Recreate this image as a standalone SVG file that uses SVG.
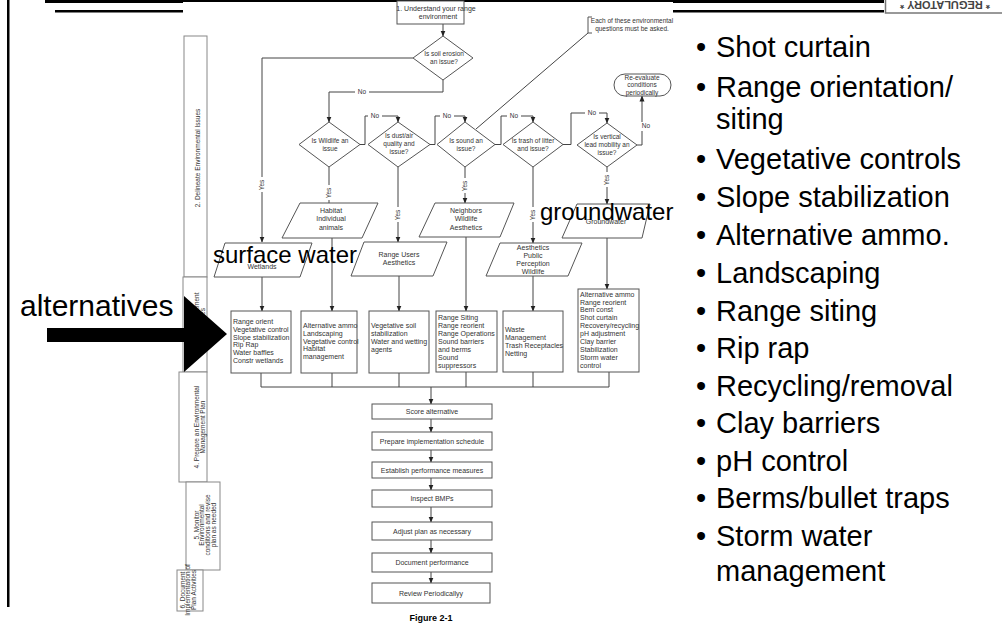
<svg xmlns="http://www.w3.org/2000/svg" width="1002" height="625" viewBox="0 0 1002 625">
<defs>
<marker id="ah" markerWidth="6" markerHeight="6" refX="5.5" refY="3" orient="auto" markerUnits="userSpaceOnUse"><path d="M0,0.5 L6,3 L0,5.5 z" fill="#222"/></marker>
<style>
.s{fill:#fff;stroke:#555;stroke-width:1}
.g{fill:#fff;stroke:#888;stroke-width:1}
.c{fill:none;stroke:#444;stroke-width:1}
.a{marker-end:url(#ah)}
.t{font-family:"Liberation Sans",Arial,sans-serif;font-size:7px;fill:#333}
.t6{font-family:"Liberation Sans",Arial,sans-serif;font-size:6.5px;fill:#333}
.m{text-anchor:middle}
.big{font-family:"Liberation Sans",Arial,sans-serif;font-size:24px;fill:#000}
.alt{font-family:"Liberation Sans",Arial,sans-serif;font-size:30px;fill:#000}
.lst{font-family:"Liberation Sans",Arial,sans-serif;font-size:29px;fill:#000}
.w{fill:#fff}
</style>
</defs>
<rect width="1002" height="625" fill="#fff"/>
<g id="frame">
<rect x="7" y="0" width="2.5" height="607" fill="#000"/>
<rect x="45" y="0" width="138" height="3" fill="#000"/>
<rect x="183" y="0" width="490" height="2" fill="#000"/>
<rect x="673" y="0" width="211" height="3" fill="#000"/>
<rect x="55" y="10" width="128" height="2.5" fill="#000"/>
<rect x="673" y="10" width="211" height="2.5" fill="#000"/>
<rect x="885.5" y="-3" width="120" height="16" fill="#fff" stroke="#777" stroke-width="1.5"/>
<text transform="rotate(180 945 1)" x="945" y="1" text-anchor="middle" font-family="Liberation Sans, Arial, sans-serif" font-size="11" font-weight="bold" fill="#444">* REGULATORY *</text>
</g>
<g id="lanes">
<g id="lane2"><rect class="g" x="184" y="36" width="23" height="241"/><text class="t6 m" transform="translate(199.5,158) rotate(-90)">2. Delineate Environmental Issues</text></g>
<g id="lane3"><rect class="g" x="183" y="277" width="24" height="95"/><text class="t6 m" transform="translate(198.5,325) rotate(-90)"><tspan x="0" y="0">3. Select Management</tspan><tspan x="0" y="6.5">Alternatives</tspan></text></g>
<g id="lane4"><rect class="g" x="179" y="372" width="28" height="110"/><text class="t6 m" transform="translate(198.5,427) rotate(-90)"><tspan x="0" y="0">4. Prepare an Environmental</tspan><tspan x="0" y="6">Management Plan</tspan></text></g>
<g id="lane5"><rect class="g" x="186" y="482" width="34" height="88"/><text class="t6 m" transform="translate(198.5,525) rotate(-90)"><tspan x="0" y="0">5. Monitor</tspan><tspan x="0" y="5.7">Environmental</tspan><tspan x="0" y="11.4">conditions and revise</tspan><tspan x="0" y="17.1">plan as needed</tspan></text></g>
<g id="lane6"><rect class="g" x="177" y="570" width="26" height="41"/><text class="t6 m" transform="translate(184.5,590) rotate(-90)"><tspan x="0" y="0">6. Document</tspan><tspan x="0" y="5.6">Implementation of</tspan><tspan x="0" y="11.2">Plan Activities</tspan></text></g>
</g>
<g id="connectors">
<path class="c a" d="M443,24 V36"/>
<path class="c a" d="M413,58 H262 V242"/>
<path class="c a" d="M443,80 V92 H329 V122"/>
<path class="c a" d="M360,144.5 H365 V116 H398 V122"/>
<path class="c a" d="M430,144.5 H435 V116 H465 V122"/>
<path class="c a" d="M495,144.5 H501 V116 H533 V122"/>
<path class="c a" d="M563,144.5 H571 V113 H607 V123"/>
<path class="c a" d="M637,145 H642 V96"/>
<path class="c" d="M329,167 V203"/>
<path class="c a" d="M398,167 V242"/>
<path class="c a" d="M465,167 V203"/>
<path class="c a" d="M533,167 V243"/>
<path class="c a" d="M607,167 V204"/>
<path class="c a" d="M262,277 V311"/>
<path class="c a" d="M332,238 V311"/>
<path class="c a" d="M399,276 V311"/>
<path class="c a" d="M466,237 V311"/>
<path class="c a" d="M533,276 V311"/>
<path class="c a" d="M607,238 V289"/>
<path class="c" d="M261,373 V387 M332,373 V387 M399,373 V387 M466,372 V387 M533,372 V387 M609,372 V387 M261,387 H609"/>
<path class="c a" d="M431,387 V404" stroke-width="1.5"/>
<path class="c a" d="M431,419 V432"/>
<path class="c a" d="M431,450 V462"/>
<path class="c a" d="M431,478 V490"/>
<path class="c a" d="M431,507 V522"/>
<path class="c a" d="M431,540 V553"/>
<path class="c a" d="M431,572 V583"/>
<path class="c" d="M588,33 L476,129" stroke="#666"/>
<g id="labels">
<rect class="w" x="258" y="177" width="8" height="15"/><text class="t6 m" transform="translate(264.3,185) rotate(-90)">Yes</text>
<rect class="w" x="355" y="88" width="14" height="8"/><text class="t6 m" x="362" y="94.3">No</text>
<rect class="w" x="368" y="112" width="14" height="8"/><text class="t6 m" x="375" y="118.3">No</text>
<rect class="w" x="440" y="112" width="14" height="8"/><text class="t6 m" x="447" y="118.3">No</text>
<rect class="w" x="507" y="112" width="14" height="8"/><text class="t6 m" x="514" y="118.3">No</text>
<rect class="w" x="585" y="109" width="14" height="8"/><text class="t6 m" x="592" y="115.3">No</text>
<rect class="w" x="640" y="122" width="12" height="9"/><text class="t6 m" x="646" y="128.3">No</text>
<rect class="w" x="325" y="185" width="8" height="15"/><text class="t6 m" transform="translate(331.3,193) rotate(-90)">Yes</text>
<rect class="w" x="394" y="207" width="8" height="15"/><text class="t6 m" transform="translate(400.3,215) rotate(-90)">Yes</text>
<rect class="w" x="461" y="178" width="8" height="15"/><text class="t6 m" transform="translate(467.3,186) rotate(-90)">Yes</text>
<rect class="w" x="529" y="207" width="8" height="15"/><text class="t6 m" transform="translate(535.3,215) rotate(-90)">Yes</text>
<rect class="w" x="603" y="172" width="8" height="15"/><text class="t6 m" transform="translate(609.3,180) rotate(-90)">Yes</text>
</g>
</g>
<g id="start"><rect class="s" x="397" y="1" width="67" height="23"/><text class="t m" x="436" y="10.5">1. Understand your range</text><text class="t m" x="438" y="19">environment</text></g>
<g id="d-soil"><polygon class="s" points="443,36 473,58 443,80 413,58"/><text class="t6 m" x="444" y="56">Is soil erosion</text><text class="t6 m" x="444" y="64">an issue?</text></g>
<g id="d-wildlife"><polygon class="s" points="329,122 360,144.5 329,167 299,144.5"/><text class="t6 m" x="330" y="143">Is Wildlife an</text><text class="t6 m" x="330" y="151">issue</text></g>
<g id="d-dust"><polygon class="s" points="398,122 430,144.5 398,167 368,144.5"/><text class="t6 m" x="399" y="138">Is dust/air</text><text class="t6 m" x="399" y="146">quality and</text><text class="t6 m" x="399" y="154">issue?</text></g>
<g id="d-sound"><polygon class="s" points="465,122 495,144.5 465,167 437,144.5"/><text class="t6 m" x="466" y="143">Is sound an</text><text class="t6 m" x="466" y="151">issue?</text></g>
<g id="d-trash"><polygon class="s" points="533,122 563,144.5 533,167 503,144.5"/><text class="t6 m" x="533" y="143">Is trash of litter</text><text class="t6 m" x="533" y="151">and issue?</text></g>
<g id="d-vertical"><polygon class="s" points="607,123 637,145 607,167 577,145"/><text class="t6 m" x="607" y="139">Is vertical</text><text class="t6 m" x="607" y="147">lead mobility an</text><text class="t6 m" x="607" y="155">issue?</text></g>
<g id="reeval"><rect class="s" x="614" y="74" width="57" height="22" rx="11"/><text class="t6 m" x="642" y="79.5">Re-evaluate</text><text class="t6 m" x="642" y="87">conditions</text><text class="t6 m" x="642" y="94.5">periodically</text></g>
<g id="note"><path d="M592,17 H588 V33 H592" fill="none" stroke="#555"/><text class="t6 m" x="632" y="23">Each of these environmental</text><text class="t6 m" x="632" y="31">questions must be asked.</text></g>
<g id="p-surface"><polygon class="s" points="225,243 312,243 300,277 214,277"/><text class="t m" x="262" y="269">Wetlands</text></g>
<g id="p-habitat"><polygon class="s" points="300,203 378,203 362,238 282,238"/><text class="t m" x="331" y="213">Habitat</text><text class="t m" x="331" y="221">Individual</text><text class="t m" x="331" y="229.5">animals</text></g>
<g id="p-users"><polygon class="s" points="364,242 447,242 433,276 351,276"/><text class="t m" x="399" y="257">Range Users</text><text class="t m" x="399" y="265">Aesthetics</text></g>
<g id="p-neighbors"><polygon class="s" points="435,203 514,203 500,237 419,237"/><text class="t m" x="466" y="213">Neighbors</text><text class="t m" x="466" y="221">Wildlife</text><text class="t m" x="466" y="229.5">Aesthetics</text></g>
<g id="p-aesthetics"><polygon class="s" points="500,243 582,243 568,276 486,276"/><text class="t m" x="533" y="249.5">Aesthetics</text><text class="t m" x="533" y="257.5">Public</text><text class="t m" x="533" y="265.5">Perception</text><text class="t m" x="533" y="273.5">Wildlife</text></g>
<g id="p-ground"><polygon class="s" points="577,204 650,204 642,238 562,238"/><text class="t m" x="606" y="224">Groundwater</text></g>
<g id="b1"><rect class="s" x="231" y="311" width="60" height="62"/><text class="t"><tspan x="233" y="324">Range orient</tspan><tspan x="233" y="331.8">Vegetative control</tspan><tspan x="233" y="339.6">Slope stabilization</tspan><tspan x="233" y="347.4">Rip Rap</tspan><tspan x="233" y="355.2">Water baffles</tspan><tspan x="233" y="363">Constr wetlands</tspan></text></g>
<g id="b2"><rect class="s" x="301" y="311" width="56" height="62"/><text class="t"><tspan x="303" y="328">Alternative ammo</tspan><tspan x="303" y="335.8">Landscaping</tspan><tspan x="303" y="343.6">Vegetative control</tspan><tspan x="303" y="351.4">Habitat</tspan><tspan x="303" y="359.2">management</tspan></text></g>
<g id="b3"><rect class="s" x="369" y="311" width="60" height="62"/><text class="t"><tspan x="371" y="328">Vegetative soil</tspan><tspan x="371" y="335.8">stabilization</tspan><tspan x="371" y="343.8">Water and wetting</tspan><tspan x="371" y="352">agents</tspan></text></g>
<g id="b4"><rect class="s" x="436" y="311" width="61" height="61"/><text class="t"><tspan x="438" y="319.5">Range Siting</tspan><tspan x="438" y="327.5">Range reorient</tspan><tspan x="438" y="335.5">Range Operations</tspan><tspan x="438" y="343.5">Sound barriers</tspan><tspan x="438" y="351.5">and berms</tspan><tspan x="438" y="359.5">Sound</tspan><tspan x="438" y="367.5">suppressors</tspan></text></g>
<g id="b5"><rect class="s" x="503" y="311" width="60" height="61"/><text class="t"><tspan x="505" y="331.5">Waste</tspan><tspan x="505" y="339.5">Management</tspan><tspan x="505" y="347.5">Trash Receptacles</tspan><tspan x="505" y="355.5">Netting</tspan></text></g>
<g id="b6"><rect class="s" x="578" y="289" width="61" height="83"/><text class="t"><tspan x="580" y="296.5">Alternative ammo</tspan><tspan x="580" y="304.5">Range reorient</tspan><tspan x="580" y="312.4">Bem const</tspan><tspan x="580" y="320.3">Shot curtain</tspan><tspan x="580" y="328.2">Recovery/recycling</tspan><tspan x="580" y="336.1">pH adjustment</tspan><tspan x="580" y="344">Clay barrier</tspan><tspan x="580" y="352">Stabilization</tspan><tspan x="580" y="360">Storm water</tspan><tspan x="580" y="368">control</tspan></text></g>
<g id="f1"><rect class="s" x="372" y="404" width="120" height="15"/><text class="t m" x="432" y="414">Score alternative</text></g>
<g id="f2"><rect class="s" x="372" y="432" width="120" height="18"/><text class="t m" x="432" y="443.5">Prepare implementation schedule</text></g>
<g id="f3"><rect class="s" x="372" y="462" width="120" height="16"/><text class="t m" x="432" y="472.5">Establish performance measures</text></g>
<g id="f4"><rect class="s" x="372" y="490" width="120" height="17"/><text class="t m" x="432" y="500.5">Inspect BMPs</text></g>
<g id="f5"><rect class="s" x="372" y="522" width="120" height="18"/><text class="t m" x="432" y="533.5">Adjust plan as necessary</text></g>
<g id="f6"><rect class="s" x="372" y="553" width="120" height="19"/><text class="t m" x="432" y="564.5">Document performance</text></g>
<g id="f7"><rect class="s" x="372" y="583" width="118" height="20"/><text class="t m" x="431" y="595.5">Review Periodicallyy</text></g>
<text id="fig" x="431" y="621" text-anchor="middle" font-family="Liberation Sans, Arial, sans-serif" font-size="9" font-weight="bold" fill="#000">Figure 2-1</text>
<g id="overlay">
<text class="big" x="213" y="263">surface water</text>
<text class="big" x="540" y="220">groundwater</text>
<text class="alt" x="20" y="316">alternatives</text>
<path d="M47,328 H184 V296 L227,334 L184,372 V342 H47 z" fill="#000"/>
</g>
<g id="list" class="lst">
<text x="696" y="57">•</text><text x="716" y="57">Shot curtain</text>
<text x="696" y="97">•</text><text x="716" y="97">Range orientation/</text>
<text x="716" y="129">siting</text>
<text x="696" y="169">•</text><text x="716" y="169">Vegetative controls</text>
<text x="696" y="207">•</text><text x="716" y="207">Slope stabilization</text>
<text x="696" y="245">•</text><text x="716" y="245">Alternative ammo.</text>
<text x="696" y="283">•</text><text x="716" y="283">Landscaping</text>
<text x="696" y="321">•</text><text x="716" y="321">Range siting</text>
<text x="696" y="358">•</text><text x="716" y="358">Rip rap</text>
<text x="696" y="396">•</text><text x="716" y="396">Recycling/removal</text>
<text x="696" y="433">•</text><text x="716" y="433">Clay barriers</text>
<text x="696" y="471">•</text><text x="716" y="471">pH control</text>
<text x="696" y="508">•</text><text x="716" y="508">Berms/bullet traps</text>
<text x="696" y="546">•</text><text x="716" y="546">Storm water</text>
<text x="716" y="581">management</text>
</g>
</svg>
